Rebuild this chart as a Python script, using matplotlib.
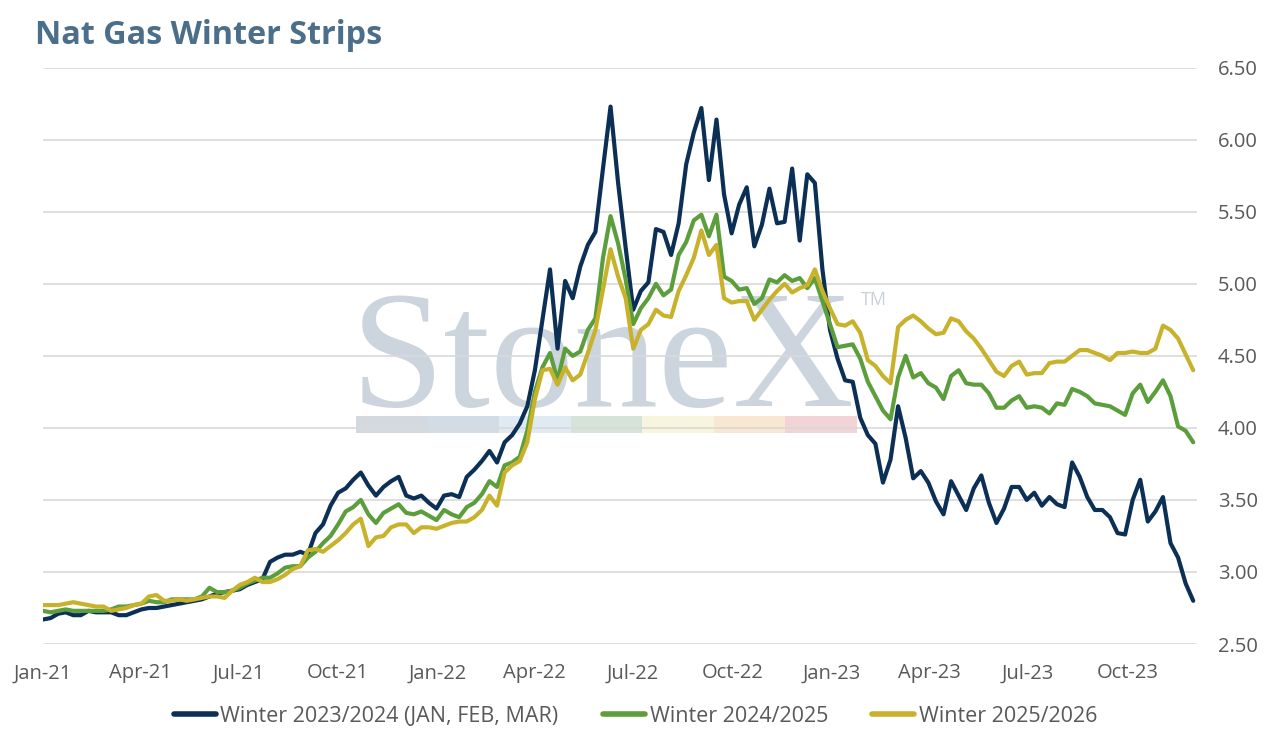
import matplotlib
matplotlib.use("Agg")
import matplotlib.pyplot as plt
from matplotlib.patches import Rectangle
import pandas as pd

# ---------------- data (weekly samples) ----------------
dates = pd.date_range("2021-01-01", periods=153, freq="7D")

winter_2324 = [
    2.67, 2.68, 2.71, 2.72, 2.70, 2.70, 2.73, 2.72, 2.72, 2.72,
    2.70, 2.70, 2.72, 2.74, 2.75, 2.75, 2.76, 2.77, 2.78, 2.79,
    2.80, 2.81, 2.83, 2.85, 2.86, 2.87, 2.88, 2.91, 2.93, 2.95,
    3.07, 3.10, 3.12, 3.12, 3.14, 3.12, 3.27, 3.33, 3.46, 3.55,
    3.58, 3.64, 3.69, 3.60, 3.53, 3.59, 3.63, 3.66, 3.53, 3.51,
    3.53, 3.48, 3.44, 3.53, 3.54, 3.52, 3.66, 3.71, 3.77, 3.84,
    3.76, 3.90, 3.95, 4.03, 4.15, 4.40, 4.75, 5.10, 4.55, 5.02,
    4.90, 5.12, 5.27, 5.36, 5.80, 6.23, 5.70, 5.25, 4.82, 4.95,
    5.01, 5.38, 5.36, 5.20, 5.42, 5.83, 6.05, 6.22, 5.72, 6.14,
    5.62, 5.35, 5.55, 5.67, 5.26, 5.41, 5.66, 5.42, 5.43, 5.80,
    5.30, 5.76, 5.70, 5.10, 4.68, 4.48, 4.33, 4.32, 4.07, 3.95,
    3.89, 3.62, 3.78, 4.15, 3.93, 3.65, 3.70, 3.62, 3.49, 3.40,
    3.63, 3.53, 3.43, 3.58, 3.67, 3.48, 3.34, 3.44, 3.59, 3.59,
    3.50, 3.55, 3.46, 3.52, 3.47, 3.45, 3.76, 3.66, 3.52, 3.43,
    3.43, 3.38, 3.27, 3.26, 3.50, 3.64, 3.35, 3.42, 3.52, 3.20,
    3.10, 2.92, 2.80,
]

winter_2425 = [
    2.73, 2.72, 2.73, 2.74, 2.73, 2.73, 2.73, 2.73, 2.73, 2.74,
    2.76, 2.76, 2.77, 2.78, 2.80, 2.79, 2.79, 2.81, 2.81, 2.81,
    2.81, 2.83, 2.89, 2.86, 2.86, 2.87, 2.89, 2.92, 2.94, 2.96,
    2.96, 2.99, 3.03, 3.04, 3.04, 3.10, 3.14, 3.20, 3.25, 3.33,
    3.42, 3.45, 3.50, 3.40, 3.34, 3.41, 3.44, 3.47, 3.41, 3.40,
    3.42, 3.39, 3.36, 3.43, 3.40, 3.38, 3.45, 3.48, 3.54, 3.63,
    3.59, 3.74, 3.76, 3.80, 3.98, 4.25, 4.42, 4.52, 4.33, 4.55,
    4.50, 4.53, 4.68, 4.76, 5.18, 5.47, 5.28, 5.03, 4.72, 4.83,
    4.90, 5.00, 4.92, 4.96, 5.20, 5.29, 5.44, 5.48, 5.33, 5.48,
    5.05, 5.02, 4.96, 4.97, 4.86, 4.90, 5.03, 5.01, 5.06, 5.02,
    5.04, 4.97, 5.04, 4.88, 4.72, 4.56, 4.57, 4.58, 4.48, 4.32,
    4.22, 4.12, 4.06, 4.35, 4.50, 4.35, 4.38, 4.31, 4.28, 4.20,
    4.36, 4.40, 4.31, 4.30, 4.30, 4.24, 4.14, 4.14, 4.19, 4.22,
    4.14, 4.15, 4.14, 4.10, 4.17, 4.16, 4.27, 4.25, 4.22, 4.17,
    4.16, 4.15, 4.12, 4.09, 4.24, 4.30, 4.18, 4.25, 4.33, 4.22,
    4.01, 3.98, 3.90,
]

winter_2526 = [
    2.77, 2.77, 2.77, 2.78, 2.79, 2.78, 2.77, 2.76, 2.76, 2.73,
    2.74, 2.75, 2.77, 2.78, 2.83, 2.84, 2.80, 2.80, 2.81, 2.80,
    2.81, 2.82, 2.83, 2.83, 2.82, 2.87, 2.91, 2.93, 2.96, 2.93,
    2.93, 2.95, 2.98, 3.02, 3.04, 3.15, 3.16, 3.14, 3.18, 3.22,
    3.27, 3.33, 3.37, 3.18, 3.24, 3.25, 3.31, 3.33, 3.33, 3.27,
    3.31, 3.31, 3.30, 3.32, 3.34, 3.35, 3.35, 3.38, 3.43, 3.53,
    3.46, 3.69, 3.74, 3.77, 3.90, 4.20, 4.40, 4.41, 4.30, 4.42,
    4.33, 4.37, 4.52, 4.68, 4.96, 5.24, 5.05, 4.90, 4.55, 4.68,
    4.72, 4.82, 4.78, 4.77, 4.95, 5.06, 5.18, 5.37, 5.20, 5.27,
    4.90, 4.87, 4.88, 4.88, 4.75, 4.82, 4.89, 4.95, 5.00, 4.94,
    4.97, 4.99, 5.10, 4.95, 4.83, 4.72, 4.71, 4.74, 4.66, 4.47,
    4.43, 4.36, 4.31, 4.70, 4.75, 4.78, 4.74, 4.69, 4.65, 4.66,
    4.76, 4.74, 4.67, 4.62, 4.55, 4.47, 4.39, 4.36, 4.43, 4.46,
    4.37, 4.38, 4.38, 4.45, 4.46, 4.46, 4.50, 4.54, 4.54, 4.52,
    4.50, 4.47, 4.52, 4.52, 4.53, 4.52, 4.52, 4.55, 4.71, 4.68,
    4.62, 4.51, 4.40,
]

series_labels = ["Winter 2023/2024 (JAN, FEB, MAR)", "Winter 2024/2025", "Winter 2025/2026"]
series_colors = ["#0c2f55", "#5b9e3b", "#c8b22c"]
y_ticks = [2.50, 3.00, 3.50, 4.00, 4.50, 5.00, 5.50, 6.00, 6.50]
x_tick_dates = pd.date_range("2021-01-01", "2023-10-01", freq="QS")

# ---------------- figure ----------------
W, H = 1271, 734
FONT = ["Open Sans", "DejaVu Sans"]
TXT = "#595959"
plt.rcParams["font.family"] = FONT

fig = plt.figure(figsize=(W / 100, H / 100), dpi=100)
fig.patch.set_facecolor("white")

def fx(px):
    return px / W

def fy(py):
    return 1 - py / H

ax = fig.add_axes([fx(43), fy(644), fx(1197) - fx(43), fy(67.7) - fy(644)])

for s in ax.spines.values():
    s.set_visible(False)

# watermark
wm_color = "#ccd4dd"
ax.text(fx(603), fy(406), "StoneX", transform=fig.transFigure, ha="center", va="baseline",
        fontsize=121, family="Liberation Serif", color=wm_color, zorder=0.5)
ax.text(fx(874), fy(300), "TM", transform=fig.transFigure, ha="center", va="center",
        fontsize=13, color="#c9d0d9", zorder=0.5)
bar_colors = ["#d4d9df", "#d2dce6", "#dfeaf3", "#d6e3d8", "#f7f5de", "#f9e7d2", "#f3d4d6"]
seg_w = (857 - 356) / len(bar_colors)
for k, c in enumerate(bar_colors):
    ax.add_patch(Rectangle((fx(356 + k * seg_w), fy(433)), fx(seg_w), fy(416) - fy(433),
                           transform=fig.transFigure, facecolor=c, edgecolor="none", zorder=0.5))

# grid
ax.set_axisbelow(True)
ax.yaxis.grid(True, color="#d9d9d9", linewidth=1.2)
ax.xaxis.grid(False)

# lines
for vals, lab, col in zip([winter_2324, winter_2425, winter_2526], series_labels, series_colors):
    ax.plot(dates, vals, color=col, linewidth=3.0, label=lab, solid_joinstyle="round",
            solid_capstyle="round", zorder=3)

x0 = pd.Timestamp("2021-01-01")
ax.set_xlim(x0, x0 + pd.Timedelta(days=1067.5))
ax.set_ylim(2.5, 6.5)

ax.set_yticks(y_ticks)
ax.set_yticklabels([f"{v:.2f}" for v in y_ticks])
ax.yaxis.tick_right()
ax.tick_params(axis="y", length=0, pad=15, labelsize=14.5, labelcolor=TXT)

ax.set_xticks(x_tick_dates)
ax.set_xticklabels([d.strftime("%b-%y") for d in x_tick_dates])
ax.tick_params(axis="x", length=0, pad=14, labelsize=14.5, labelcolor=TXT)

# title
fig.text(fx(35), fy(44), "Nat Gas Winter Strips", ha="left", va="baseline",
         fontsize=23.3, fontweight="bold", color="#4b6f8a")

# legend
leg = fig.legend(loc="center", bbox_to_anchor=(0.5, fy(716)), ncol=3, frameon=False,
                 fontsize=15.5, handlelength=1.95, handletextpad=0.23, columnspacing=2.05)
for t in leg.get_texts():
    t.set_color(TXT)
for h in leg.get_lines():
    h.set_linewidth(4)

fig.savefig("out.png", dpi=100)
